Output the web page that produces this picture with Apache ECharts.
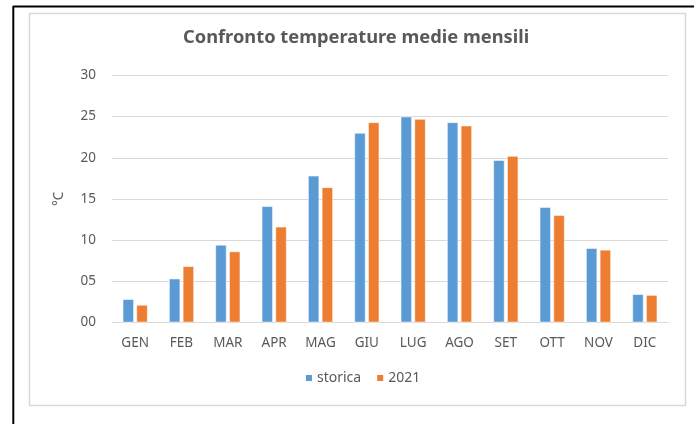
<!DOCTYPE html>
<html>
<head>
<meta charset="UTF-8">
<title>Confronto temperature medie mensili</title>
<script src="https://cdn.jsdelivr.net/npm/echarts@6/dist/echarts.min.js"></script>
<style>
html, body { margin: 0; padding: 0; background: #fff; }
#chart { width: 694px; height: 424px; }
</style>
</head>
<body>
<div id="chart"></div>
<script>
// dati
var mesi = ['GEN', 'FEB', 'MAR', 'APR', 'MAG', 'GIU', 'LUG', 'AGO', 'SET', 'OTT', 'NOV', 'DIC'];
var storica = [2.8, 5.3, 9.4, 14.1, 17.8, 23.0, 25.0, 24.3, 19.7, 14.0, 9.0, 3.4];
var anno2021 = [2.1, 6.8, 8.6, 11.6, 16.4, 24.3, 24.7, 23.9, 20.2, 13.0, 8.8, 3.3];
var nomiSerie = ['storica', '2021'];

var grigio = '#595959';
var font = 'Noto Sans';

var option = {
    animation: false,
    title: {
        text: 'Confronto temperature medie mensili',
        left: 183,
        top: 29,
        padding: 0,
        textStyle: { color: grigio, fontSize: 18.3, fontWeight: 'bold', fontFamily: font }
    },
    legend: {
        data: nomiSerie,
        bottom: 34,
        left: 299,
        itemWidth: 8,
        itemHeight: 8,
        itemGap: 14,
        icon: 'rect',
        textStyle: { color: grigio, fontSize: 14, fontFamily: font, padding: [0, 0, 0, -1] }
    },
    grid: { left: 112, right: 26, top: 75.5, bottom: 101.7 },
    xAxis: {
        type: 'category',
        data: mesi,
        axisTick: { show: false },
        axisLine: { lineStyle: { color: '#d9d9d9' } },
        axisLabel: { color: grigio, fontSize: 13.5, fontFamily: font, margin: 14 }
    },
    yAxis: {
        type: 'value',
        min: 0,
        max: 30,
        interval: 5,
        name: '°C',
        nameLocation: 'middle',
        nameGap: 46,
        nameRotate: 90,
        nameTextStyle: { color: grigio, fontSize: 13.5, fontFamily: font },
        axisLine: { show: false },
        axisTick: { show: false },
        splitLine: { lineStyle: { color: '#d9d9d9', width: 1 } },
        axisLabel: {
            color: grigio, fontSize: 13.5, fontFamily: font, margin: 16,
            formatter: function (v) { return (v < 10 ? '0' : '') + v; }
        }
    },
    series: [
        {
            name: nomiSerie[0],
            type: 'bar',
            data: storica,
            barWidth: 11,
            barGap: '25%',
            itemStyle: { color: '#5b9bd5', borderColor: '#fff', borderWidth: 0.5 }
        },
        {
            name: nomiSerie[1],
            type: 'bar',
            data: anno2021,
            barWidth: 11,
            itemStyle: { color: '#ed7d31', borderColor: '#fff', borderWidth: 0.5 }
        }
    ],
    graphic: [
        // cornice nera esterna
        { type: 'line', shape: { x1: 13, y1: 6.5, x2: 694, y2: 6.5 }, style: { stroke: '#000', lineWidth: 2 } },
        { type: 'line', shape: { x1: 13.3, y1: 6, x2: 13.3, y2: 424 }, style: { stroke: '#000', lineWidth: 2 } },
        // bordo grigio dell'area grafico
        { type: 'rect', shape: { x: 29.5, y: 13.5, width: 656, height: 392 }, style: { fill: 'none', stroke: '#d9d9d9', lineWidth: 1.5 }, z: -1 }
    ]
};

var myChart = echarts.init(document.getElementById('chart'));
myChart.setOption(option);
</script>
</body>
</html>
